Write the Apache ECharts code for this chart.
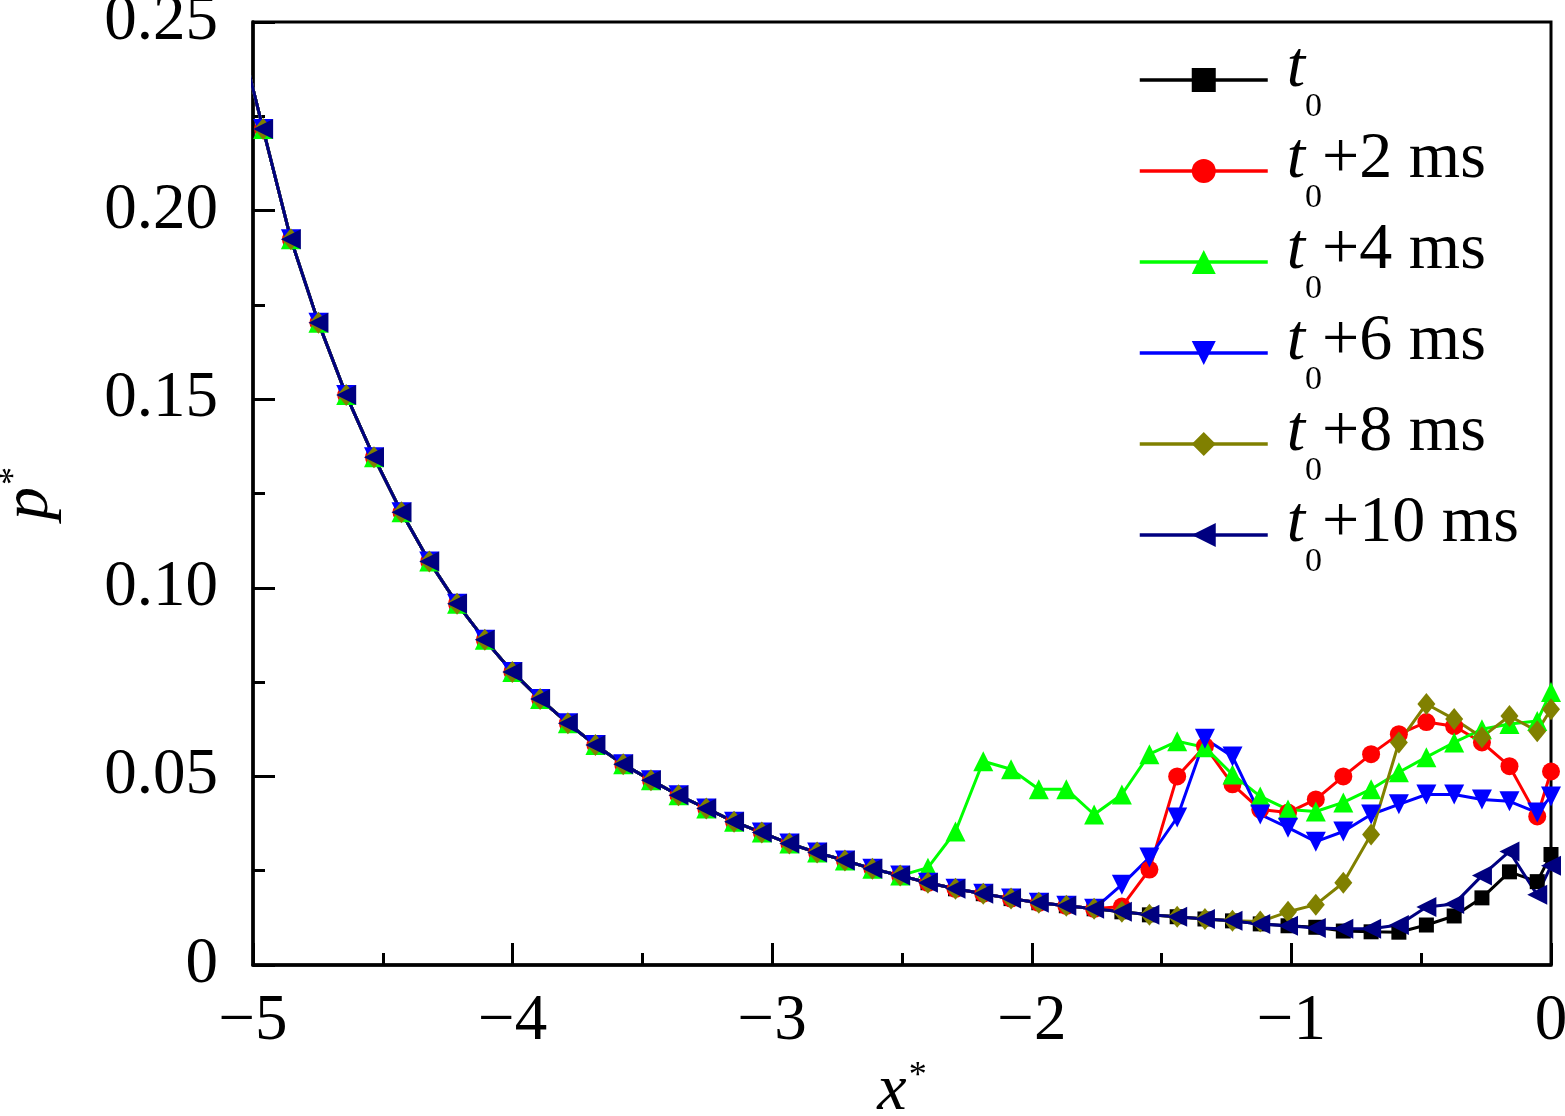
<!DOCTYPE html>
<html>
<head>
<meta charset="utf-8">
<script src="https://cdn.jsdelivr.net/npm/echarts@6/dist/echarts.min.js"></script>
<style>
html,body{margin:0;padding:0;background:#fff;}
#chart{width:1565px;height:1116px;}
</style>
</head>
<body>
<div id="chart"></div>
<script>
// x* positions of the samples
const xs = [-5.03,
  -4.961,-4.854,-4.748,-4.641,-4.534,-4.428,-4.321,-4.214,-4.107,-4.001,
  -3.894,-3.787,-3.681,-3.574,-3.467,-3.361,-3.254,-3.147,-3.040,-2.934,
  -2.827,-2.720,-2.614,-2.507,-2.400,-2.294,-2.187,-2.080,-1.973,-1.867,
  -1.760,-1.653,-1.547,-1.440,-1.333,-1.227,-1.120,-1.013,-0.906,-0.800,
  -0.693,-0.586,-0.480,-0.373,-0.266,-0.160,-0.053,0];

const seriesNames = ['t0','t0+2 ms','t0+4 ms','t0+6 ms','t0+8 ms','t0+10 ms'];

const p_t0 = [0.2405,
  0.2216,0.1924,0.1703,0.1511,0.1346,0.1200,0.1070,0.0958,0.0862,0.0777,
  0.0705,0.0641,0.0583,0.0532,0.0490,0.0450,0.0415,0.0380,0.0351,0.0322,
  0.0298,0.0277,0.0255,0.0237,0.0218,0.0202,0.0189,0.0176,0.0165,0.0157,
  0.0149,0.0141,0.0133,0.0128,0.0122,0.0117,0.0109,0.0104,0.0100,0.0090,
  0.0088,0.0087,0.0106,0.0130,0.0178,0.0247,0.0221,0.0293];

const p_t2 = [0.2405,
  0.2216,0.1924,0.1703,0.1511,0.1346,0.1200,0.1070,0.0958,0.0862,0.0777,
  0.0705,0.0641,0.0583,0.0532,0.0490,0.0450,0.0415,0.0380,0.0351,0.0322,
  0.0298,0.0277,0.0255,0.0237,0.0218,0.0202,0.0189,0.0176,0.0165,0.0157,
  0.0149,0.0155,0.0253,0.0500,0.0580,0.0479,0.0412,0.0404,0.0439,0.0500,
  0.0559,0.0612,0.0644,0.0633,0.0590,0.0527,0.0394,0.0513];

const p_t4 = [0.2405,
  0.2216,0.1924,0.1703,0.1511,0.1346,0.1200,0.1070,0.0958,0.0862,0.0777,
  0.0705,0.0641,0.0583,0.0532,0.0490,0.0450,0.0415,0.0380,0.0351,0.0322,
  0.0298,0.0277,0.0255,0.0237,0.0258,0.0354,0.0540,0.0519,0.0466,0.0466,
  0.0399,0.0452,0.0559,0.0593,0.0577,0.0505,0.0447,0.0412,0.0407,0.0431,
  0.0466,0.0511,0.0551,0.0590,0.0625,0.0639,0.0647,0.0724];

const p_t6 = [0.2405,
  0.2216,0.1924,0.1703,0.1511,0.1346,0.1200,0.1070,0.0958,0.0862,0.0777,
  0.0705,0.0641,0.0583,0.0532,0.0490,0.0450,0.0415,0.0380,0.0351,0.0322,
  0.0298,0.0277,0.0255,0.0237,0.0218,0.0202,0.0189,0.0176,0.0165,0.0157,
  0.0149,0.0213,0.0285,0.0391,0.0600,0.0553,0.0399,0.0364,0.0327,0.0354,
  0.0399,0.0426,0.0452,0.0452,0.0439,0.0434,0.0404,0.0447];

const p_t8 = [0.2405,
  0.2216,0.1924,0.1703,0.1511,0.1346,0.1200,0.1070,0.0958,0.0862,0.0777,
  0.0705,0.0641,0.0583,0.0532,0.0490,0.0450,0.0415,0.0380,0.0351,0.0322,
  0.0298,0.0277,0.0255,0.0237,0.0218,0.0202,0.0189,0.0176,0.0165,0.0157,
  0.0149,0.0141,0.0133,0.0128,0.0122,0.0117,0.0115,0.0141,0.0160,0.0218,
  0.0346,0.0590,0.0692,0.0652,0.0604,0.0660,0.0620,0.0678];

const p_t10 = [0.2405,
  0.2216,0.1924,0.1703,0.1511,0.1346,0.1200,0.1070,0.0958,0.0862,0.0777,
  0.0705,0.0641,0.0583,0.0532,0.0490,0.0450,0.0415,0.0380,0.0351,0.0322,
  0.0298,0.0277,0.0255,0.0237,0.0218,0.0202,0.0189,0.0176,0.0165,0.0157,
  0.0149,0.0141,0.0133,0.0128,0.0122,0.0117,0.0109,0.0104,0.0098,0.0096,
  0.0096,0.0106,0.0154,0.0162,0.0237,0.0301,0.0186,0.0263];

const xTickLabels = {'-5':'\u22125','-4':'\u22124','-3':'\u22123','-2':'\u22122','-1':'\u22121','0':'0'};
const yTickLabels = {'0':'0','0.05':'0.05','0.1':'0.10','0.15':'0.15','0.2':'0.20','0.25':'0.25'};

const colors = ['#000000','#ff0000','#00ff00','#0000ff','#808000','#000080'];
const symbols = ['rect','circle','triangle','triangle','diamond','triangle'];
const symbolSizes = [15,18,20,20,[18,22],20];
const symbolRotates = [0,0,0,180,0,90];
const values = [p_t0,p_t2,p_t4,p_t6,p_t8,p_t10];

const FONT = 'Liberation Serif, Times New Roman, serif';

const chart = echarts.init(document.getElementById('chart'), null, {renderer:'canvas'});

const series = seriesNames.map((name, i) => ({
  name: name,
  type: 'line',
  data: xs.map((x, j) => [x, values[i][j]]),
  color: colors[i],
  symbol: symbols[i],
  symbolSize: symbolSizes[i],
  symbolRotate: symbolRotates[i],
  showAllSymbol: true,
  lineStyle: {width: 3, color: colors[i]},
  itemStyle: {color: colors[i]},
  clip: true,
  animation: false
}));

chart.setOption({
  backgroundColor: '#ffffff',
  animation: false,
  grid: {
    left: 253, right: 14, top: 22, bottom: 151,
    outerBoundsMode: 'none',
    show: true, borderColor: '#000', borderWidth: 3, backgroundColor: 'transparent',
    containLabel: false
  },
  legend: {
    orient: 'vertical',
    left: 1133,
    top: 31,
    itemWidth: 128,
    itemHeight: 30,
    itemGap: 3,
    selectedMode: false,
    data: seriesNames,
    lineStyle: {width: 3.5},
    formatter: function (name) {
      const tail = name.slice(2);
      return '{i|t}{s|0}' + (tail ? '{n|' + tail + '}' : '');
    },
    textStyle: {
      color: '#000',
      fontFamily: FONT,
      rich: {
        i: {fontFamily: FONT, fontStyle: 'italic', fontSize: 66, lineHeight: 66, color: '#000', padding: [0,0,22,14]},
        s: {fontFamily: FONT, fontSize: 34, lineHeight: 34, color: '#000', padding: [54,0,0,0]},
        n: {fontFamily: FONT, fontSize: 66, lineHeight: 66, color: '#000', padding: [0,0,22,0]}
      }
    }
  },
  xAxis: {
    type: 'value',
    min: -5, max: 0, interval: 1,
    name: '{i|x}{s|*}',
    nameLocation: 'middle',
    nameGap: 94,
    nameTextStyle: {
      rich: {
        i: {fontFamily: FONT, fontStyle: 'italic', fontSize: 66, color: '#000'},
        s: {fontFamily: FONT, fontSize: 36, color: '#000', padding: [0,0,30,2]}
      }
    },
    axisLine: {show: true, onZero: false, lineStyle: {color: '#000', width: 3.5}},
    axisTick: {show: true, inside: true, length: 22, lineStyle: {color: '#000', width: 3}},
    minorTick: {show: true, splitNumber: 2, length: 12, lineStyle: {color: '#000', width: 3}},
    splitLine: {show: false},
    axisLabel: {
      margin: 24,
      color: '#000', fontFamily: FONT, fontSize: 65,
      formatter: v => xTickLabels[String(v)] !== undefined ? xTickLabels[String(v)] : String(v)
    }
  },
  yAxis: {
    type: 'value',
    min: 0, max: 0.25, interval: 0.05,
    name: '{i|p}{s|*}',
    nameLocation: 'middle',
    nameRotate: 90,
    nameGap: 190,
    nameTextStyle: {
      rich: {
        i: {fontFamily: FONT, fontStyle: 'italic', fontSize: 66, color: '#000'},
        s: {fontFamily: FONT, fontSize: 36, color: '#000', padding: [0,0,30,2]}
      }
    },
    axisLine: {show: true, onZero: false, lineStyle: {color: '#000', width: 3.5}},
    axisTick: {show: true, inside: true, length: 22, lineStyle: {color: '#000', width: 3}},
    minorTick: {show: true, splitNumber: 2, length: 12, lineStyle: {color: '#000', width: 3}},
    splitLine: {show: false},
    axisLabel: {
      margin: 35,
      color: '#000', fontFamily: FONT, fontSize: 65,
      formatter: v => {
        const k = String(Math.round(v * 100) / 100);
        return yTickLabels[k] !== undefined ? yTickLabels[k] : k;
      }
    }
  },
  series: series
});
</script>
</body>
</html>
